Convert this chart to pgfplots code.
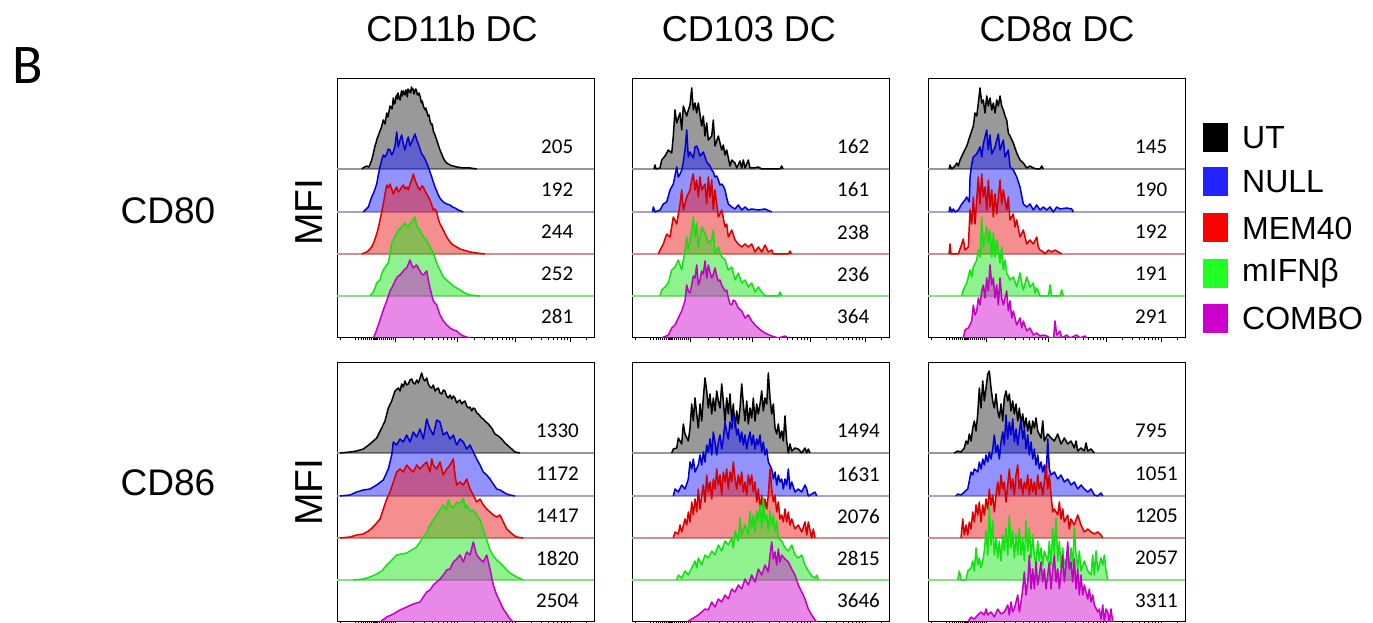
\documentclass[border=0pt]{standalone}
\usepackage{pgfplots}
\pgfplotsset{compat=1.18}
\usepackage{pgfplotstable}
\usepackage{fontspec}
\setmainfont{Liberation Sans}
\newfontfamily\calib{Carlito}

\definecolor{fUT}{RGB}{0,0,0}\definecolor{lUT}{RGB}{0,0,0}
\definecolor{fNU}{RGB}{40,40,255}\definecolor{lNU}{RGB}{0,0,210}
\definecolor{fME}{RGB}{235,30,30}\definecolor{lME}{RGB}{215,0,0}
\definecolor{fIF}{RGB}{30,230,30}\definecolor{lIF}{RGB}{20,225,20}
\definecolor{fCO}{RGB}{210,20,210}\definecolor{lCO}{RGB}{195,0,195}
\definecolor{bUT}{RGB}{150,150,150}\definecolor{bNU}{RGB}{165,165,195}
\definecolor{bME}{RGB}{205,145,145}\definecolor{bIF}{RGB}{140,220,140}
\definecolor{gUT}{RGB}{0,0,0}\definecolor{gNU}{RGB}{35,35,255}
\definecolor{gME}{RGB}{255,0,0}\definecolor{gIF}{RGB}{34,255,34}\definecolor{gCO}{RGB}{204,0,204}

% ---------- Panel A: CD11b DC, CD80 ----------
\pgfplotstableread[row sep=\\]{x h\\ 24.7 0\\ 26 1\\ 29.7 3\\ 32 2\\ 34.7 9\\ 36 14\\ 38 23\\ 39 26\\ 40 30\\ 41.5 34\\ 43 38\\ 44.5 42\\ 46.3 49\\ 48 45\\ 49.7 56\\ 51 52\\ 53 63\\ 55 60\\ 56.3 71\\ 57 65\\ 58 66\\ 59 72\\ 59.7 74\\ 60.3 70\\ 61 76\\ 62 71\\ 63 69\\ 64 75\\ 64.5 78\\ 65.3 73\\ 66.3 78\\ 67 76\\ 68 74\\ 68.8 79\\ 69.7 76\\ 70.3 72\\ 71 80\\ 72 77\\ 73 79\\ 73.8 76\\ 74.5 82\\ 75.3 79\\ 76.3 80\\ 77 75\\ 78 78\\ 78.8 80\\ 79.7 78\\ 80.3 74\\ 81 74\\ 82 76\\ 83 73\\ 84.5 66\\ 85.3 68\\ 86.3 63\\ 88 59\\ 88.8 61\\ 89.7 58\\ 91 53\\ 92 54\\ 93 48\\ 94.5 44\\ 95.3 45\\ 96.3 38\\ 98 34\\ 99.7 29\\ 101 25\\ 103 19\\ 104.7 15\\ 106.3 11\\ 108 8\\ 109.7 6\\ 113 4\\ 116 3\\ 119.7 2\\ 126.3 1\\ 133 1\\ 139.7 0\\}\tAut
\pgfplotstableread[row sep=\\]{x h\\ 26.3 0\\ 31.3 5\\ 34.7 15\\ 37 20\\ 39.7 28\\ 41.5 38\\ 43 45\\ 44.7 52\\ 46.3 57\\ 48 55\\ 49.7 58\\ 51.3 63\\ 53 62\\ 54.7 57\\ 56.3 60\\ 58 66\\ 59.7 80\\ 61.3 65\\ 63 72\\ 64.7 77\\ 66.3 68\\ 68 62\\ 69.7 70\\ 71.3 75\\ 73 66\\ 74.7 70\\ 76.3 74\\ 78 78\\ 79.7 72\\ 81.3 68\\ 83 63\\ 84.7 58\\ 86.3 56\\ 88 53\\ 89.7 49\\ 91.3 45\\ 93 40\\ 94.7 35\\ 96.3 30\\ 98 25\\ 99.7 21\\ 101.3 17\\ 103.5 13\\ 106.3 10\\ 109.7 8\\ 113 7\\ 115.5 5\\ 118 4\\ 121.3 2\\ 126.3 0\\}\tAnu
\pgfplotstableread[row sep=\\]{x h\\ 24.7 0\\ 29.7 2\\ 32 4\\ 34.7 7\\ 37 12\\ 39.7 20\\ 41.5 27\\ 43 34\\ 44.7 42\\ 46.3 50\\ 48 60\\ 49.7 69\\ 51.3 66\\ 53 70\\ 54.7 65\\ 56.3 60\\ 58 64\\ 59.7 67\\ 61.3 62\\ 63 64\\ 64.7 67\\ 66.3 69\\ 68 65\\ 69.7 67\\ 71.3 64\\ 73 70\\ 74.7 74\\ 76.3 80\\ 78 74\\ 79.7 70\\ 81.3 66\\ 83 64\\ 84.7 68\\ 86.3 67\\ 88 63\\ 89.7 60\\ 91.3 57\\ 93 54\\ 94.7 49\\ 96.3 44\\ 98 45\\ 99.7 42\\ 101.3 35\\ 103 30\\ 106.3 24\\ 109.7 17\\ 113 12\\ 116 9\\ 119.7 7\\ 123 5\\ 126.3 4\\ 129.7 3\\ 133 2\\ 139.7 1\\ 148 0\\}\tAme
\pgfplotstableread[row sep=\\]{x h\\ 33 0\\ 36.3 4\\ 38 8\\ 39.7 13\\ 43 16\\ 44.7 22\\ 46.3 26\\ 49 30\\ 51.3 33\\ 53 42\\ 54.7 53\\ 56.3 56\\ 58 59\\ 59.7 63\\ 61.3 66\\ 63 67\\ 64.7 69\\ 66.3 71\\ 68 73\\ 69.7 70\\ 71.3 69\\ 73 72\\ 74.7 74\\ 76.3 77\\ 78 79\\ 79.7 69\\ 81.3 68\\ 83 66\\ 84.7 62\\ 86.3 59\\ 88 58\\ 89.7 56\\ 91.3 52\\ 93 49\\ 94.7 46\\ 96.3 43\\ 98 38\\ 99.7 33\\ 101.3 29\\ 103 26\\ 106.3 19\\ 109.7 16\\ 113 13\\ 116.3 10\\ 119.7 8\\ 123 6\\ 126.3 4\\ 129.7 2\\ 133 1\\ 143 0\\}\tAif
\pgfplotstableread[row sep=\\]{x h\\ 36.3 0\\ 38.5 5\\ 41.3 13\\ 43 18\\ 44.7 23\\ 47 30\\ 49.7 37\\ 51.3 42\\ 53 47\\ 54.7 50\\ 56.3 53\\ 58 57\\ 59.7 60\\ 61.3 62\\ 63 63\\ 64.7 65\\ 66.3 67\\ 68 69\\ 69.7 70\\ 71.3 74\\ 73 78\\ 74.7 73\\ 76.3 70\\ 78 72\\ 79.7 73\\ 81.3 70\\ 83 67\\ 84.7 64\\ 86.3 63\\ 88 65\\ 89.7 67\\ 91.3 58\\ 93 50\\ 94.7 43\\ 96.3 37\\ 98 35\\ 99.7 33\\ 101.3 28\\ 103 23\\ 104.7 20\\ 106.3 17\\ 109.7 13\\ 113 10\\ 116.3 8\\ 119.7 7\\ 123 4\\ 126.3 2\\ 133 0\\}\tAco

% ---------- Panel B: CD103 DC, CD80 ----------
\pgfplotstableread[row sep=\\]{x h\\ 22 0\\ 23 4\\ 24 0\\ 28 1\\ 29.7 9\\ 33 13\\ 36.3 19\\ 39.7 16\\ 41.3 33\\ 43 59\\ 44.7 46\\ 48 56\\ 49.7 39\\ 51.3 63\\ 54.7 53\\ 56.3 59\\ 58 64\\ 59.7 81\\ 61.3 59\\ 63 66\\ 64.7 56\\ 66.3 66\\ 69.7 43\\ 71.3 53\\ 73 33\\ 74.7 46\\ 76.3 29\\ 79.7 33\\ 81.3 49\\ 83 23\\ 86.3 33\\ 89.7 19\\ 91.3 24\\ 93 14\\ 94.7 19\\ 98 3\\ 99.7 9\\ 103 6\\ 104.7 1\\ 108 8\\ 109.7 1\\ 111.3 9\\ 113 1\\ 116.3 9\\ 118 1\\ 121.3 1\\ 126.3 2\\ 129.7 0\\ 148 0\\ 149.7 3\\ 151 0\\}\tBut
\pgfplotstableread[row sep=\\]{x h\\ 20.5 0\\ 21.3 5\\ 22.5 2\\ 23 0\\ 28 2\\ 31.3 8\\ 34.7 10\\ 38 22\\ 41.3 28\\ 44.7 45\\ 46.3 35\\ 48 38\\ 49.7 42\\ 51.3 50\\ 53 62\\ 54.7 82\\ 56.3 55\\ 58 60\\ 59.7 57\\ 61.3 54\\ 63 65\\ 64.7 66\\ 66.3 62\\ 68 56\\ 69.7 58\\ 71.3 60\\ 73 55\\ 74.7 50\\ 76.3 48\\ 78 46\\ 79.7 42\\ 81.3 40\\ 83 35\\ 84.7 36\\ 86.3 32\\ 88 27\\ 89.7 28\\ 91.3 26\\ 93 22\\ 94.7 14\\ 96.3 8\\ 99.7 5\\ 103 3\\ 106.3 7\\ 109.7 2\\ 113 5\\ 116.3 2\\ 119.7 3\\ 126.3 2\\ 133 3\\ 139.7 0\\}\tBnu
\pgfplotstableread[row sep=\\]{x h\\ 26.3 0\\ 28 4\\ 31.3 10\\ 34.7 20\\ 38 17\\ 41.3 37\\ 44.7 30\\ 48 50\\ 49.7 64\\ 51.3 44\\ 54.7 57\\ 58 64\\ 59.7 74\\ 61.3 80\\ 63 64\\ 64.7 74\\ 66.3 57\\ 68 77\\ 69.7 64\\ 73 70\\ 74.7 50\\ 76.3 77\\ 78 57\\ 79.7 74\\ 81.3 44\\ 83 64\\ 86.3 37\\ 89.7 44\\ 93 27\\ 94.7 30\\ 96.3 17\\ 99.7 24\\ 103 14\\ 106.3 10\\ 109.7 7\\ 113 10\\ 116.3 7\\ 119.7 10\\ 123 2\\ 126.3 7\\ 129.7 2\\ 133 9\\ 136.3 2\\ 139.7 4\\ 141.3 0\\ 156.5 0\\ 158 3\\ 159.5 0\\}\tBme
\pgfplotstableread[row sep=\\]{x h\\ 28 0\\ 29.7 6\\ 33 9\\ 36.3 13\\ 39.7 26\\ 43 29\\ 46.3 36\\ 49.7 26\\ 53 46\\ 54.7 59\\ 56.3 46\\ 59.7 66\\ 61.3 79\\ 63 59\\ 64.7 73\\ 66.3 49\\ 69.7 69\\ 73 63\\ 76.3 53\\ 79.7 56\\ 81.3 66\\ 83 43\\ 86.3 49\\ 89.7 39\\ 93 36\\ 96.3 26\\ 99.7 29\\ 103 16\\ 106.3 23\\ 109.7 13\\ 113 16\\ 116.3 9\\ 119.7 13\\ 123 4\\ 126.3 9\\ 129.7 4\\ 133 0\\ 146.5 0\\ 148 4\\ 149.5 0\\}\tBif
\pgfplotstableread[row sep=\\]{x h\\ 29.7 0\\ 36.3 3\\ 39.7 10\\ 43 13\\ 46.3 20\\ 49.7 27\\ 53 37\\ 54.7 53\\ 56.3 47\\ 58 45\\ 59.7 53\\ 61.3 62\\ 63 60\\ 64.7 73\\ 66.3 53\\ 68 58\\ 69.7 67\\ 71.3 64\\ 73 77\\ 74.7 60\\ 76.3 73\\ 78 66\\ 79.7 60\\ 81.3 64\\ 83 70\\ 84.7 62\\ 86.3 57\\ 88 58\\ 89.7 53\\ 91.3 50\\ 93 47\\ 94.7 48\\ 96.3 40\\ 98 34\\ 99.7 33\\ 101.3 38\\ 103 37\\ 106.3 30\\ 109.7 27\\ 113 20\\ 116.3 23\\ 119.7 17\\ 123 13\\ 126.3 10\\ 129.7 7\\ 133 5\\ 139.7 2\\ 146.3 0\\ 153 2\\ 156.3 0\\}\tBco

% ---------- Panel C: CD8a DC, CD80 ----------
\pgfplotstableread[row sep=\\]{x h\\ 21 0\\ 22 4\\ 23.7 0\\ 27 3\\ 28.7 6\\ 30.3 3\\ 32 9\\ 35.3 16\\ 38.7 23\\ 42 33\\ 45.3 43\\ 47 56\\ 48.7 53\\ 50.3 66\\ 52 81\\ 53.7 66\\ 55.3 69\\ 57 56\\ 58.7 73\\ 60.3 63\\ 62 71\\ 63.7 59\\ 65.3 66\\ 67 56\\ 68.7 69\\ 70.3 63\\ 72 73\\ 73.7 63\\ 75.3 59\\ 77 53\\ 78.7 49\\ 80.3 36\\ 82 33\\ 85.3 26\\ 88.7 16\\ 92 9\\ 95.3 6\\ 98.7 1\\ 102 3\\ 105.3 1\\ 108.7 0\\ 112 0\\ 113.7 3\\ 115.3 0\\}\tCut
\pgfplotstableread[row sep=\\]{x h\\ 21 0\\ 22 5\\ 23.7 0\\ 25.3 3\\ 27 0\\ 30.3 2\\ 33.7 8\\ 37 12\\ 38.7 15\\ 41.3 10\\ 42 35\\ 43.7 48\\ 45.3 55\\ 48.7 58\\ 52 65\\ 53.7 55\\ 55.3 68\\ 58.7 82\\ 60.3 62\\ 62 77\\ 63.7 58\\ 67 65\\ 70.3 78\\ 72 62\\ 75.3 72\\ 77 55\\ 80.3 62\\ 82 45\\ 85.3 42\\ 88.7 35\\ 92 25\\ 95.3 8\\ 98.7 5\\ 102 8\\ 105.3 2\\ 108.7 7\\ 112 2\\ 115.3 5\\ 118.7 2\\ 122 5\\ 125.3 0\\ 128.7 5\\ 132 3\\ 138.7 4\\ 143.7 3\\ 145.3 0\\}\tCnu
\pgfplotstableread[row sep=\\]{x h\\ 21 0\\ 22 10\\ 23 0\\ 30.3 0\\ 33.7 10\\ 35.3 15\\ 37 4\\ 40.3 7\\ 42 44\\ 43.7 30\\ 45.3 57\\ 47 30\\ 50.3 77\\ 52 50\\ 53.7 80\\ 55.3 57\\ 57 67\\ 58.7 44\\ 60.3 74\\ 62 47\\ 63.7 64\\ 65.3 37\\ 67 60\\ 68.7 40\\ 72 74\\ 73.7 50\\ 75.3 64\\ 78.7 44\\ 80.3 57\\ 82 34\\ 85.3 40\\ 87 27\\ 88.7 34\\ 92 17\\ 95.3 24\\ 98.7 10\\ 102 14\\ 105.3 10\\ 108.7 17\\ 110.3 7\\ 112 4\\ 115.3 2\\ 117 0\\ 120.3 4\\ 123.7 2\\ 127 4\\ 130.3 2\\ 133.7 0\\}\tCme
\pgfplotstableread[row sep=\\]{x h\\ 33.7 0\\ 35.3 6\\ 38.7 13\\ 42 26\\ 43.7 19\\ 45.3 29\\ 48.7 36\\ 50.3 46\\ 52 39\\ 53.7 79\\ 55.3 49\\ 57 59\\ 58.7 69\\ 60.3 53\\ 62 66\\ 63.7 39\\ 65.3 63\\ 67 39\\ 68.7 56\\ 70.3 46\\ 72 33\\ 73.7 49\\ 75.3 26\\ 77 36\\ 78.7 23\\ 82 16\\ 85.3 19\\ 88.7 9\\ 92 23\\ 93.7 13\\ 95.3 6\\ 98.7 19\\ 102 9\\ 105.3 13\\ 107 3\\ 108.7 8\\ 112 0\\ 120.5 0\\ 122 11\\ 123.5 0\\ 132 0\\ 133.7 6\\ 135.3 0\\}\tCif
\pgfplotstableread[row sep=\\]{x h\\ 35.3 0\\ 37 8\\ 40.3 10\\ 43.7 17\\ 45.3 33\\ 47 23\\ 48.7 27\\ 50.3 40\\ 52 33\\ 53.7 47\\ 55.3 53\\ 57 40\\ 58.7 60\\ 60.3 47\\ 62 73\\ 63.7 53\\ 65.3 60\\ 67 40\\ 68.7 53\\ 70.3 33\\ 72 60\\ 73.7 40\\ 75.3 33\\ 78.7 47\\ 80.3 27\\ 82 37\\ 83.7 20\\ 85.3 27\\ 88.7 13\\ 92 20\\ 93.7 10\\ 95.3 17\\ 98.7 7\\ 102 10\\ 105.3 3\\ 108.7 5\\ 112 2\\ 115.3 3\\ 118.7 2\\ 122 0\\ 125.5 0\\ 127 17\\ 128.7 3\\ 132 7\\ 133.7 0\\ 138.7 3\\ 142 0\\ 148.7 3\\ 152 0\\ 157 2\\ 158.7 0\\}\tCco

% ---------- Panel D: CD11b DC, CD86 ----------
\pgfplotstableread[row sep=\\]{x h\\ 3 0\\ 13 1\\ 19.7 2\\ 26.3 4\\ 33 9\\ 39.7 15\\ 44.7 25\\ 48 32\\ 51.3 45\\ 54.7 52\\ 58 62\\ 61.3 65\\ 63 62\\ 64.7 69\\ 66.3 66\\ 68 72\\ 69.5 68\\ 71.3 69\\ 73 73\\ 74.7 74\\ 76.3 70\\ 78 69\\ 79.7 73\\ 81.3 70\\ 83 75\\ 84.7 80\\ 86.3 74\\ 88 72\\ 89.7 75\\ 91.3 69\\ 93 66\\ 94.7 65\\ 96.3 68\\ 98 62\\ 99.7 64\\ 101.3 65\\ 103 60\\ 104.7 59\\ 106.3 63\\ 108 62\\ 109.7 57\\ 111.3 55\\ 113 58\\ 114.7 54\\ 116.3 57\\ 118 55\\ 119.7 50\\ 121.3 52\\ 123 53\\ 124.7 49\\ 126.3 51\\ 128 52\\ 129.7 47\\ 131.3 45\\ 133 46\\ 134.7 42\\ 136.3 45\\ 138 44\\ 139.7 40\\ 141.3 39\\ 143 37\\ 144.7 35\\ 146.3 34\\ 148 32\\ 151.3 29\\ 153 27\\ 154.7 25\\ 156.3 22\\ 158 19\\ 161.3 17\\ 164.7 14\\ 168 10\\ 171.3 7\\ 174.7 4\\ 178 1\\ 183 0\\}\tDut
\pgfplotstableread[row sep=\\]{x h\\ 3 0\\ 13 1\\ 19.7 4\\ 26.3 6\\ 33 7\\ 39.7 11\\ 46.3 16\\ 51.3 27\\ 54.7 41\\ 56.3 54\\ 59.7 51\\ 63 57\\ 66.3 54\\ 69.7 61\\ 73 54\\ 76.3 64\\ 79.7 59\\ 83 67\\ 86.3 57\\ 89.7 77\\ 93 67\\ 96.3 61\\ 99.7 76\\ 103 74\\ 106.3 61\\ 109.7 64\\ 113 57\\ 116.3 61\\ 119.7 51\\ 123 57\\ 126.3 54\\ 129.7 47\\ 133 51\\ 136.3 44\\ 139.7 37\\ 143 31\\ 146.3 24\\ 149.7 21\\ 153 17\\ 156.3 12\\ 159.7 7\\ 163 6\\ 166.3 4\\ 169.7 2\\ 173 1\\ 178 0\\}\tDnu
\pgfplotstableread[row sep=\\]{x h\\ 3 0\\ 13 1\\ 19.7 3\\ 26.3 4\\ 33 8\\ 38 13\\ 43 19\\ 46.3 29\\ 49.7 39\\ 53 46\\ 56.3 56\\ 59.7 66\\ 63 69\\ 66.3 66\\ 69.7 73\\ 73 69\\ 76.3 66\\ 79.7 73\\ 83 69\\ 86.3 73\\ 89.7 76\\ 93 66\\ 94.7 79\\ 96.3 73\\ 99.7 69\\ 103 76\\ 106.3 63\\ 109.7 69\\ 113 73\\ 116.3 79\\ 118 63\\ 119.7 53\\ 123 56\\ 126.3 53\\ 129.7 59\\ 133 49\\ 136.3 43\\ 139.7 36\\ 143 39\\ 146.3 33\\ 149.7 29\\ 153 26\\ 156.3 23\\ 159.7 21\\ 163 23\\ 166.3 16\\ 169.7 9\\ 173 6\\ 176.3 3\\ 179.7 1\\ 186.3 0\\}\tDme
\pgfplotstableread[row sep=\\]{x h\\ 16.3 0\\ 26.3 1\\ 33 3\\ 39.7 6\\ 44.7 9\\ 49.7 15\\ 55 20\\ 59.7 25\\ 64.7 26\\ 69.7 27\\ 74.7 30\\ 79.7 33\\ 83 38\\ 86.3 43\\ 89.7 47\\ 93 55\\ 96.3 60\\ 99.7 65\\ 103 70\\ 106.3 75\\ 109.7 70\\ 111.3 80\\ 113 75\\ 116.3 72\\ 119.7 78\\ 123 76\\ 126.3 82\\ 128 72\\ 129.7 75\\ 133 69\\ 136.3 70\\ 139.7 65\\ 143 60\\ 146.3 50\\ 149.7 40\\ 153 30\\ 156.3 24\\ 159.7 20\\ 163 17\\ 166.3 14\\ 169.7 10\\ 173 7\\ 176.3 5\\ 179.7 3\\ 186.3 0\\}\tDif
\pgfplotstableread[row sep=\\]{x h\\ 43 0\\ 49.7 5\\ 56.3 8\\ 63 12\\ 69.7 15\\ 76.3 18\\ 83 20\\ 86.3 25\\ 89.7 30\\ 93 32\\ 96.3 37\\ 99.7 40\\ 103 43\\ 106.3 47\\ 109.7 52\\ 113 53\\ 116.3 60\\ 119.7 63\\ 123 67\\ 126.3 60\\ 129.7 70\\ 133 67\\ 136.3 80\\ 139.7 67\\ 143 63\\ 146.3 60\\ 149.7 67\\ 153 53\\ 156.3 37\\ 159.7 27\\ 163 20\\ 166.3 13\\ 169.7 8\\ 173 3\\ 176.3 0\\}\tDco

% ---------- Panel E: CD103 DC, CD86 ----------
\pgfplotstableread[row sep=\\]{x h\\ 39.7 0\\ 41.3 4\\ 44.7 5\\ 46.3 15\\ 49.7 9\\ 51.3 29\\ 53 19\\ 56.3 12\\ 58 25\\ 59.7 49\\ 61.3 32\\ 63 55\\ 64.7 39\\ 66.3 25\\ 68 49\\ 69.7 32\\ 71.3 55\\ 73 75\\ 74.7 62\\ 76.3 45\\ 78 59\\ 79.7 39\\ 81.3 55\\ 83 42\\ 84.7 62\\ 86.3 52\\ 88 45\\ 89.7 69\\ 91.3 52\\ 93 32\\ 94.7 55\\ 96.3 39\\ 98 59\\ 99.7 32\\ 101.3 49\\ 103 25\\ 104.7 42\\ 106.3 29\\ 108 45\\ 109.7 69\\ 111.3 49\\ 113 32\\ 114.7 52\\ 116.3 29\\ 118 45\\ 119.7 35\\ 121.3 55\\ 123 32\\ 124.7 49\\ 126.3 39\\ 128 49\\ 129.7 62\\ 131.3 42\\ 133 55\\ 134.7 49\\ 136.3 80\\ 138 55\\ 139.7 39\\ 141.3 49\\ 143 25\\ 144.7 19\\ 146.3 29\\ 148 15\\ 149.7 22\\ 151.3 12\\ 153 37\\ 154.7 12\\ 156.3 0\\ 158 9\\ 159.7 2\\ 163 5\\ 166.3 4\\ 169.7 0\\ 173 5\\ 174.7 0\\ 176.3 4\\ 178 0\\}\tEut
\pgfplotstableread[row sep=\\]{x h\\ 41.3 0\\ 43 7\\ 46.3 4\\ 49.7 11\\ 53 7\\ 56.3 17\\ 58 34\\ 59.7 27\\ 61.3 37\\ 63 24\\ 66.3 31\\ 68 41\\ 69.7 31\\ 71.3 44\\ 73 34\\ 74.7 51\\ 76.3 44\\ 78 57\\ 79.7 41\\ 81.3 64\\ 83 54\\ 84.7 41\\ 86.3 54\\ 88 61\\ 89.7 47\\ 91.3 57\\ 93 74\\ 94.7 64\\ 96.3 57\\ 98 74\\ 99.7 67\\ 101.3 81\\ 103 77\\ 104.7 61\\ 106.3 67\\ 108 54\\ 109.7 64\\ 111.3 51\\ 113 61\\ 114.7 47\\ 116.3 57\\ 118 64\\ 119.7 51\\ 121.3 61\\ 123 47\\ 124.7 57\\ 126.3 51\\ 128 61\\ 129.7 44\\ 131.3 54\\ 133 41\\ 134.7 47\\ 136.3 34\\ 139.7 27\\ 141.3 17\\ 143 24\\ 144.7 11\\ 146.3 21\\ 148 14\\ 149.7 17\\ 151.3 7\\ 153 17\\ 154.7 11\\ 156.3 27\\ 158 7\\ 159.7 14\\ 163 4\\ 166.3 7\\ 169.7 4\\ 173 11\\ 174.7 7\\ 176.3 0\\ 179.7 2\\ 183 4\\ 184.7 0\\}\tEnu
\pgfplotstableread[row sep=\\]{x h\\ 41.3 0\\ 43 6\\ 46.3 4\\ 48 13\\ 49.7 6\\ 53 19\\ 54.7 13\\ 56.3 26\\ 58 16\\ 59.7 36\\ 61.3 23\\ 63 39\\ 64.7 26\\ 66.3 49\\ 68 29\\ 69.7 43\\ 71.3 53\\ 73 36\\ 74.7 63\\ 76.3 46\\ 78 56\\ 79.7 39\\ 81.3 59\\ 83 49\\ 84.7 69\\ 86.3 53\\ 88 63\\ 89.7 43\\ 91.3 66\\ 93 56\\ 94.7 69\\ 96.3 49\\ 98 66\\ 99.7 56\\ 101.3 76\\ 103 59\\ 104.7 49\\ 106.3 63\\ 108 53\\ 109.7 66\\ 111.3 46\\ 113 56\\ 114.7 43\\ 116.3 63\\ 118 53\\ 119.7 63\\ 121.3 46\\ 123 56\\ 124.7 36\\ 126.3 49\\ 128 29\\ 129.7 43\\ 131.3 23\\ 133 39\\ 134.7 29\\ 136.3 43\\ 138 69\\ 139.7 49\\ 141.3 36\\ 143 43\\ 144.7 26\\ 146.3 36\\ 148 19\\ 149.7 23\\ 151.3 16\\ 153 29\\ 154.7 16\\ 156.3 26\\ 158 13\\ 159.7 19\\ 163 9\\ 166.3 13\\ 169.7 6\\ 173 16\\ 174.7 3\\ 176.3 16\\ 179.7 0\\ 181.3 9\\ 183 0\\}\tEme
\pgfplotstableread[row sep=\\]{x h\\ 44.7 0\\ 46.3 5\\ 49.7 2\\ 53 9\\ 56.3 5\\ 59.7 12\\ 63 19\\ 64.7 12\\ 66.3 22\\ 69.7 15\\ 73 25\\ 76.3 22\\ 79.7 29\\ 83 25\\ 86.3 35\\ 89.7 29\\ 93 39\\ 96.3 35\\ 99.7 42\\ 101.3 32\\ 103 49\\ 106.3 39\\ 108 62\\ 109.7 45\\ 113 55\\ 116.3 45\\ 118 69\\ 119.7 52\\ 121.3 65\\ 123 49\\ 124.7 69\\ 126.3 59\\ 128 75\\ 129.7 52\\ 131.3 82\\ 133 59\\ 134.7 65\\ 136.3 49\\ 138 69\\ 139.7 55\\ 141.3 65\\ 143 49\\ 144.7 59\\ 146.3 42\\ 149.7 39\\ 153 32\\ 156.3 29\\ 159.7 35\\ 163 25\\ 166.3 22\\ 169.7 25\\ 173 15\\ 176.3 9\\ 179.7 4\\ 183 2\\ 184.7 5\\ 186.3 0\\}\tEif
\pgfplotstableread[row sep=\\]{x h\\ 54.7 0\\ 59.7 3\\ 63 5\\ 66.3 7\\ 69.7 10\\ 73 13\\ 76.3 12\\ 79.7 20\\ 83 15\\ 86.3 23\\ 89.7 20\\ 93 27\\ 96.3 23\\ 99.7 33\\ 103 30\\ 106.3 37\\ 109.7 33\\ 113 43\\ 116.3 37\\ 119.7 47\\ 123 40\\ 126.3 53\\ 129.7 47\\ 133 57\\ 136.3 50\\ 138 67\\ 139.7 80\\ 141.3 63\\ 143 70\\ 144.7 57\\ 146.3 73\\ 148 60\\ 149.7 67\\ 153 63\\ 156.3 60\\ 159.7 53\\ 163 47\\ 166.3 37\\ 169.7 30\\ 173 23\\ 176.3 13\\ 179.7 7\\ 183 2\\ 184.7 0\\}\tEco

% ---------- Panel F: CD8a DC, CD86 ----------
\pgfplotstableread[row sep=\\]{x h\\ 26.3 0\\ 29.7 2\\ 33 1\\ 36.3 5\\ 38 12\\ 39.7 9\\ 41.3 19\\ 43 12\\ 44.7 25\\ 46.3 32\\ 48 22\\ 49.7 39\\ 51.3 65\\ 53 45\\ 54.7 72\\ 56.3 52\\ 58 65\\ 59.7 79\\ 61.3 82\\ 63 65\\ 64.7 52\\ 66.3 45\\ 68 59\\ 69.7 42\\ 71.3 35\\ 73 49\\ 74.7 32\\ 76.3 55\\ 78 62\\ 79.7 52\\ 81.3 59\\ 83 42\\ 84.7 52\\ 86.3 39\\ 88 49\\ 89.7 32\\ 91.3 45\\ 93 29\\ 94.7 39\\ 96.3 25\\ 98 35\\ 99.7 22\\ 101.3 32\\ 103 19\\ 104.7 32\\ 106.3 25\\ 108 35\\ 109.7 22\\ 113 15\\ 114.7 32\\ 116.3 12\\ 119.7 19\\ 123 15\\ 126.3 12\\ 129.7 19\\ 133 9\\ 136.3 15\\ 139.7 9\\ 143 12\\ 146.3 5\\ 148 12\\ 149.7 2\\ 153 5\\ 156.3 2\\ 158 10\\ 159.7 2\\ 163 4\\ 166.3 0\\}\tFut
\pgfplotstableread[row sep=\\]{x h\\ 28 0\\ 29.7 2\\ 33 1\\ 36.3 4\\ 39.7 7\\ 43 24\\ 44.7 21\\ 46.3 27\\ 49.7 24\\ 51.3 34\\ 53 27\\ 54.7 37\\ 56.3 31\\ 58 41\\ 59.7 34\\ 61.3 44\\ 63 37\\ 64.7 47\\ 66.3 61\\ 68 44\\ 69.7 51\\ 71.3 37\\ 73 54\\ 74.7 64\\ 76.3 51\\ 78 81\\ 79.7 57\\ 81.3 74\\ 83 61\\ 84.7 77\\ 86.3 54\\ 88 67\\ 89.7 51\\ 91.3 64\\ 93 77\\ 94.7 57\\ 96.3 67\\ 98 47\\ 99.7 61\\ 101.3 41\\ 103 54\\ 104.7 37\\ 106.3 47\\ 108 31\\ 109.7 41\\ 111.3 27\\ 113 34\\ 114.7 24\\ 116.3 31\\ 118 17\\ 119.7 57\\ 121.3 27\\ 123 21\\ 126.3 24\\ 129.7 17\\ 133 21\\ 136.3 14\\ 139.7 17\\ 143 11\\ 146.3 14\\ 149.7 7\\ 153 11\\ 156.3 7\\ 159.7 4\\ 163 7\\ 166.3 1\\ 169.7 0\\ 173 3\\ 174.7 0\\}\tFnu
\pgfplotstableread[row sep=\\]{x h\\ 33 0\\ 34.7 19\\ 36.3 3\\ 38 13\\ 39.7 3\\ 41.3 16\\ 43 9\\ 44.7 26\\ 46.3 16\\ 48 33\\ 49.7 23\\ 51.3 36\\ 53 16\\ 54.7 33\\ 56.3 23\\ 58 39\\ 59.7 29\\ 61.3 49\\ 63 33\\ 64.7 43\\ 66.3 26\\ 68 43\\ 69.7 56\\ 71.3 43\\ 73 63\\ 74.7 49\\ 76.3 56\\ 78 36\\ 79.7 53\\ 81.3 69\\ 83 49\\ 84.7 59\\ 86.3 43\\ 88 63\\ 89.7 73\\ 91.3 49\\ 93 59\\ 94.7 43\\ 96.3 56\\ 98 49\\ 99.7 63\\ 101.3 43\\ 103 59\\ 104.7 46\\ 106.3 56\\ 108 43\\ 109.7 63\\ 111.3 49\\ 113 56\\ 114.7 43\\ 116.3 56\\ 118 73\\ 119.7 49\\ 121.3 63\\ 123 43\\ 124.7 26\\ 126.3 29\\ 129.7 23\\ 131.3 36\\ 133 19\\ 134.7 29\\ 136.3 16\\ 139.7 23\\ 141.3 9\\ 143 19\\ 146.3 13\\ 149.7 23\\ 153 13\\ 156.3 6\\ 159.7 9\\ 163 6\\ 166.3 4\\ 169.7 6\\ 173 3\\ 174.7 0\\}\tFme
\pgfplotstableread[row sep=\\]{x h\\ 29.7 0\\ 31.3 9\\ 33 0\\ 38 0\\ 39.7 9\\ 43 12\\ 44.7 19\\ 46.3 9\\ 48 32\\ 49.7 15\\ 51.3 22\\ 53 12\\ 54.7 19\\ 56.3 29\\ 58 49\\ 59.7 25\\ 61.3 75\\ 63 35\\ 64.7 59\\ 66.3 25\\ 68 42\\ 69.7 22\\ 71.3 39\\ 73 19\\ 74.7 45\\ 76.3 29\\ 78 52\\ 79.7 25\\ 81.3 65\\ 83 32\\ 84.7 49\\ 86.3 22\\ 88 45\\ 89.7 25\\ 91.3 52\\ 93 25\\ 94.7 42\\ 96.3 19\\ 98 59\\ 99.7 29\\ 101.3 52\\ 103 22\\ 104.7 45\\ 106.3 25\\ 108 15\\ 109.7 39\\ 111.3 19\\ 113 32\\ 114.7 15\\ 116.3 29\\ 119.7 19\\ 121.3 39\\ 123 15\\ 124.7 52\\ 126.3 25\\ 128 62\\ 129.7 19\\ 131.3 39\\ 133 12\\ 134.7 32\\ 136.3 15\\ 139.7 25\\ 141.3 12\\ 143 32\\ 144.7 15\\ 146.3 52\\ 148 25\\ 149.7 12\\ 151.3 29\\ 153 9\\ 156.3 19\\ 159.7 9\\ 163 5\\ 164.7 25\\ 166.3 5\\ 168 29\\ 169.7 9\\ 173 22\\ 174.7 15\\ 176.3 25\\ 178 9\\ 179.7 0\\}\tFif
\pgfplotstableread[row sep=\\]{x h\\ 39.7 0\\ 43 5\\ 46.3 3\\ 49.7 7\\ 53 10\\ 56.3 7\\ 58 13\\ 59.7 7\\ 63 10\\ 66.3 5\\ 69.7 13\\ 73 8\\ 76.3 10\\ 79.7 17\\ 81.3 7\\ 83 20\\ 84.7 10\\ 86.3 13\\ 89.7 27\\ 91.3 10\\ 93 20\\ 94.7 33\\ 96.3 50\\ 98 27\\ 99.7 40\\ 101.3 67\\ 103 33\\ 104.7 53\\ 106.3 33\\ 108 60\\ 109.7 37\\ 111.3 47\\ 113 60\\ 114.7 40\\ 116.3 53\\ 118 33\\ 119.7 47\\ 121.3 60\\ 123 33\\ 124.7 53\\ 126.3 67\\ 128 40\\ 129.7 53\\ 131.3 33\\ 133 50\\ 134.7 67\\ 136.3 40\\ 138 57\\ 139.7 80\\ 141.3 53\\ 143 60\\ 144.7 40\\ 146.3 63\\ 148 33\\ 149.7 53\\ 151.3 27\\ 153 47\\ 154.7 27\\ 156.3 37\\ 159.7 23\\ 161.3 33\\ 163 20\\ 164.7 27\\ 166.3 17\\ 169.7 10\\ 171.3 13\\ 173 3\\ 174.7 17\\ 176.3 0\\ 178 13\\ 179.7 10\\ 181.3 0\\ 183 13\\ 184.7 0\\}\tFco

\pgfplotsset{
  panel/.style={
    width=257bp, height=259bp, scale only axis,
    xmin=0, xmax=257, ymin=0, ymax=259,
    axis line style={line width=1bp, black},
    ytick=\empty,
    xtick={58,120,178,233}, xticklabels={},
    minor xtick={3,18,21,24,26,28,30,32,34,36,37,38,39,40,42,44,46,48,50,52,54,56,76.7,87.6,95.3,101.3,106.2,110.4,114,117.2,137.5,147.7,154.9,160.5,165.1,169,172.4,175.4,194.6,204.2,211.1,216.4,220.8,224.5,227.7,230.5,249.5},
    tick align=outside, tick pos=left,
    major tick length=4.5bp, minor tick length=2.5bp,
    every tick/.style={black, line width=0.8bp},
    clip=true,
  },
}
\tikzset{num/.style={anchor=west, font=\calib\fontsize{21bp}{24bp}\selectfont, inner sep=0pt}}

% #1 table, #2 baseline, #3 fill colour, #4 line colour, #5 fill opacity
\newcommand{\hist}[5]{%
  \addplot[draw=none, fill=#3, fill opacity=#5, forget plot] table[x index=0, y expr=\thisrowno{1}+#2] {#1} -- cycle;
  \addplot[color=#4, line width=1.5bp, line join=round, mark=none, forget plot] table[x index=0, y expr=\thisrowno{1}+#2] {#1};
}
\newcommand{\bases}{%
  \addplot[color=bUT, line width=1.4bp, forget plot] coordinates {(0,169) (257,169)};
  \addplot[color=bNU, line width=1.4bp, forget plot] coordinates {(0,126) (257,126)};
  \addplot[color=bME, line width=1.2bp, forget plot] coordinates {(0,84) (257,84)};
  \addplot[color=bIF, line width=1.2bp, forget plot] coordinates {(0,42) (257,42)};
}
\newcommand{\panel}[5]{%
  \bases
  \hist{#1}{169}{fUT}{lUT}{0.4}
  \hist{#2}{126}{fNU}{lNU}{0.5}
  \hist{#3}{84}{fME}{lME}{0.5}
  \hist{#4}{42}{fIF}{lIF}{0.5}
  \hist{#5}{0}{fCO}{lCO}{0.5}
}
\newcommand{\nums}[6]{%
  \node[num] at (axis cs:#1,191) {#2};
  \node[num] at (axis cs:#1,148) {#3};
  \node[num] at (axis cs:#1,106) {#4};
  \node[num] at (axis cs:#1,64) {#5};
  \node[num] at (axis cs:#1,21.5) {#6};
}

\begin{document}
\begin{tikzpicture}[x=1bp,y=1bp]
\path[use as bounding box] (0,0) rectangle (1373,623);

% titles
\node[font=\fontsize{36bp}{40bp}\selectfont] at (452,594) {CD11b DC};
\node[font=\fontsize{36bp}{40bp}\selectfont] at (749,594) {CD103 DC};
\node[font=\fontsize{36bp}{40bp}\selectfont] at (1057,594) {CD8α DC};
\node[font=\calib\fontsize{56bp}{60bp}\selectfont] at (28,557) {B};
\node[font=\fontsize{37bp}{40bp}\selectfont] at (168,412) {CD80};
\node[font=\fontsize{37bp}{40bp}\selectfont] at (168,140) {CD86};
\node[font=\fontsize{39bp}{40bp}\selectfont, rotate=90] at (309,411) {MFI};
\node[font=\fontsize{39bp}{40bp}\selectfont, rotate=90] at (309,131) {MFI};

% top row
\begin{axis}[panel, at={(337,285)}, anchor=south west]
  \panel{\tAut}{\tAnu}{\tAme}{\tAif}{\tAco}
  \nums{204}{205}{192}{244}{252}{281}
\end{axis}
\begin{axis}[panel, at={(632,285)}, anchor=south west]
  \panel{\tBut}{\tBnu}{\tBme}{\tBif}{\tBco}
  \nums{205}{162}{161}{238}{236}{364}
\end{axis}
\begin{axis}[panel, at={(928,285)}, anchor=south west]
  \panel{\tCut}{\tCnu}{\tCme}{\tCif}{\tCco}
  \nums{207}{145}{190}{192}{191}{291}
\end{axis}
% bottom row
\begin{axis}[panel, at={(337,1)}, anchor=south west]
  \panel{\tDut}{\tDnu}{\tDme}{\tDif}{\tDco}
  \nums{199}{1330}{1172}{1417}{1820}{2504}
\end{axis}
\begin{axis}[panel, at={(632,1)}, anchor=south west]
  \panel{\tEut}{\tEnu}{\tEme}{\tEif}{\tEco}
  \nums{205}{1494}{1631}{2076}{2815}{3646}
\end{axis}
\begin{axis}[panel, at={(928,1)}, anchor=south west]
  \panel{\tFut}{\tFnu}{\tFme}{\tFif}{\tFco}
  \nums{207}{795}{1051}{1205}{2057}{3311}
\end{axis}

% legend
\foreach \c/\t/\yc in {gUT/UT/137.5, gNU/NULL/182, gME/MEM40/228, gIF/mIFNβ/273.5, gCO/COMBO/318.5}{
  \fill[\c] (1203,623-\yc-14.5) rectangle (1228,623-\yc+14.5);
  \node[anchor=west, font=\fontsize{32bp}{36bp}\selectfont, inner sep=0pt] at (1242,623-\yc) {\t};
}
\end{tikzpicture}
\end{document}
